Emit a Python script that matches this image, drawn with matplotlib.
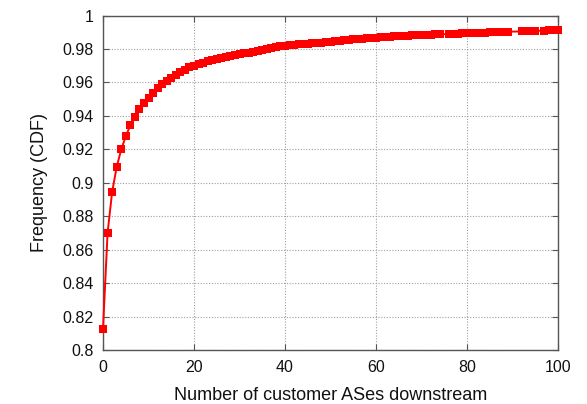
import matplotlib
matplotlib.use("Agg")
import matplotlib.pyplot as plt

plt.rcParams['font.family'] = ['Liberation Sans', 'DejaVu Sans']

x_values = [0, 1, 2, 3, 4, 5, 6, 7, 8, 9, 10, 11, 12, 13, 14, 15, 16, 17, 18, 19,
            20, 21, 22, 23, 24, 25, 26, 27, 28, 29, 30, 31, 32, 33, 34, 35, 36, 37, 38, 39,
            40, 41, 42, 43, 44, 45, 46, 47, 48, 49, 50, 51, 52, 53, 54, 55, 56, 57, 58, 59,
            60, 61, 62, 63, 64, 65, 66, 67, 68, 69, 70, 71, 72, 73, 74, 76, 77, 78, 79,
            80, 81, 82, 83, 84, 85, 86, 87, 88, 89, 92, 93, 94, 95, 97, 98, 99, 100]
cdf_values = [0.8127, 0.8700, 0.8944, 0.9094, 0.9199, 0.9277, 0.9344, 0.9392, 0.9440, 0.9476,
              0.9509, 0.9539, 0.9565, 0.9589, 0.9611, 0.9629, 0.9645, 0.9660, 0.9675, 0.9690,
              0.9700, 0.9710, 0.9718, 0.9726, 0.9733, 0.9740, 0.9746, 0.9752, 0.9758, 0.9763,
              0.9768, 0.9773, 0.9778, 0.9783, 0.9788, 0.9793, 0.9800, 0.9806, 0.9811, 0.9816,
              0.9820, 0.9823, 0.9826, 0.9828, 0.9830, 0.9832, 0.9834, 0.9836, 0.9838, 0.9840,
              0.9843, 0.9847, 0.9850, 0.9853, 0.9855, 0.9857, 0.9859, 0.9861, 0.9863, 0.9865,
              0.9867, 0.9869, 0.9871, 0.9873, 0.9875, 0.9877, 0.9879, 0.9880, 0.9882, 0.9883,
              0.9884, 0.9885, 0.9886, 0.9887, 0.9888, 0.9890, 0.9891, 0.9892, 0.9893,
              0.9894, 0.9895, 0.9896, 0.9897, 0.9898, 0.9899, 0.9900, 0.9901, 0.9902, 0.9903,
              0.9905, 0.9906, 0.9907, 0.9908, 0.9910, 0.9911, 0.9912, 0.9913]
x_ticks = [0, 20, 40, 60, 80, 100]
y_ticks = [0.8, 0.82, 0.84, 0.86, 0.88, 0.9, 0.92, 0.94, 0.96, 0.98, 1.0]
y_tick_labels = ['0.8', '0.82', '0.84', '0.86', '0.88', '0.9', '0.92', '0.94', '0.96', '0.98', '1']

fig = plt.figure(figsize=(5.87, 4.04), dpi=100)
ax = fig.add_axes([0.1755, 0.1337, 0.7751, 0.8279])

ax.plot(x_values, cdf_values, color='#ff0000', linewidth=1.4, marker='s',
        markersize=5.2, markeredgewidth=0, clip_on=False, zorder=3)

ax.set_xlim(0, 100)
ax.set_ylim(0.8, 1.0)
ax.set_xticks(x_ticks)
ax.set_yticks(y_ticks)
ax.set_yticklabels(y_tick_labels)

ax.grid(True, color='#a0a0a0', linestyle=(0, (1, 1.5)), linewidth=0.8)
ax.set_axisbelow(True)

for s in ax.spines.values():
    s.set_color('#555555')
    s.set_linewidth(1.0)

ax.tick_params(direction='in', length=4, width=0.8, color='#555555',
               top=True, right=True, labelsize=11.5, pad=7, labelcolor='#111111')

ax.set_xlabel('Number of customer ASes downstream', fontsize=13, color='#111111', labelpad=9)
ax.set_ylabel('Frequency (CDF)', fontsize=13, color='#111111', labelpad=10)

fig.savefig('out.png', dpi=100)
